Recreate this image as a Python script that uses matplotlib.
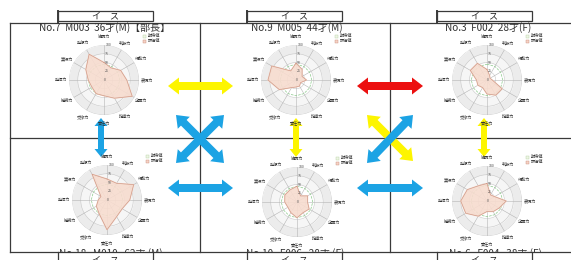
import numpy as np
import matplotlib
matplotlib.use('Agg')
import matplotlib.pyplot as plt
from matplotlib.patches import Polygon, Rectangle
from matplotlib.transforms import Bbox, TransformedBbox

plt.rcParams['font.family'] = ['Noto Sans CJK JP', 'DejaVu Sans']

# radar axis labels (clockwise from top)
skills = ['協調力', '判断力', '行動力', '表現力', '企画力', '指導力',
          '責任力', '交渉力', '継続力', '発信力', '実行力', '発想力']
ticks = [0, 25, 50, 75, 100]
legend_labels = ['期待値', '評価値']

top_titles = ['No.7  M003  36才(M)【部長】', 'No.9  M005  44才(M)', 'No.3  F002  28才(F)']
bottom_titles = ['No.18   M010   62才 (M)', 'No.10   F006   28才 (F)', 'No.6   F004   38才 (F)']

expected = [45, 45, 45, 45, 45, 45, 45, 45, 45, 45, 45, 45]
scores = [
    [50, 40, 55, 65, 93, 60, 45, 45, 40, 45, 60, 85],   # No.7
    [48, 35, 20, 30, 15, 20, 20, 25, 55, 80, 80, 30],   # No.9
    [30, 15, 10, 15, 50, 50, 40, 25, 30, 30, 55, 55],   # No.3
    [60, 55, 88, 65, 50, 55, 85, 45, 35, 25, 20, 85],   # No.18
    [45, 20, 35, 30, 40, 35, 45, 35, 30, 35, 40, 40],   # No.10
    [50, 20, 25, 55, 40, 35, 30, 50, 70, 75, 65, 50],   # No.6
]

# radar centres in pixels
centers = [(104, 80), (296, 80), (487, 80), (107, 200), (297, 202), (487, 201)]
R = 35

# arrows: (start, end, colour, shaft, head width, head length)
BLUE = '#1ca3e4'
YEL = '#fdf500'
RED = '#ec1010'
arrows = [
    ((168, 86), (233, 86), YEL, 8, 17, 11),
    ((357, 86), (423, 86), RED, 8, 17, 11),
    ((168, 188), (233, 188), BLUE, 8, 17, 11),
    ((357, 188), (423, 188), BLUE, 8, 17, 11),
    ((101, 118), (101, 157), BLUE, 6, 13, 8),
    ((296, 118), (296, 157), YEL, 6, 13, 8),
    ((484, 118), (484, 157), YEL, 6, 13, 8),
    ((176, 115), (224, 163), BLUE, 8, 17, 11),
    ((224, 115), (176, 163), BLUE, 8, 17, 11),
    ((367, 115), (413, 161), YEL, 8, 17, 11),
    ((367, 163), (413, 115), BLUE, 8, 17, 11),
]

W, H = 571, 260
fig = plt.figure(figsize=(W / 100, H / 100), dpi=100)
base = fig.add_axes([0, 0, 1, 1])
base.set_xlim(0, W)
base.set_ylim(H, 0)
base.axis('off')

line_c = '#3a3a3a'
# frame lines
base.plot([10, W], [23, 23], color=line_c, lw=0.9, zorder=1)
base.plot([10, W], [137.5, 137.5], color=line_c, lw=0.9, zorder=1)
base.plot([10, W], [252, 252], color=line_c, lw=0.9, zorder=4)
for x in [10, 200, 390]:
    base.plot([x, x], [23, 252], color=line_c, lw=0.9, zorder=1)

# seat boxes on top
for x0 in [58, 247, 437]:
    base.add_patch(Rectangle((x0, 11), 95, 10, fill=False, ec=line_c, lw=0.9))
    base.plot([x0, x0], [11, 23], color=line_c, lw=1.4)
    base.text(x0 + 47.5, 16, 'イ　ス', ha='center', va='center', fontsize=6.5, color='#222')

for (cx, cy), t in zip(centers[:3], top_titles):
    base.text(cx + 1, 28, t, ha='center', va='center', fontsize=7.2, color='#333')

# bottom titles, cut by the bottom line
upper = TransformedBbox(Bbox([[0, 0], [W, 252]]), base.transData)
lower = TransformedBbox(Bbox([[0, 252.5], [W, H]]), base.transData)
tx = [111, 295, 495]
for x, t in zip(tx, bottom_titles):
    txt = base.text(x, 248.5, t, ha='center', va='top', fontsize=7.2, color='#333', zorder=2)
    txt.set_clip_box(upper)
    txt.set_clip_on(True)
for x0 in [58, 247, 437]:
    base.plot([x0, x0], [252, 262], color=line_c, lw=0.9, zorder=4)
    base.plot([x0 + 95, x0 + 95], [252, 262], color=line_c, lw=0.9, zorder=4)
    txt = base.text(x0 + 47.5, 255.5, 'イ　ス', ha='center', va='top', fontsize=6.5,
                    color='#222', zorder=4)
    txt.set_clip_box(lower)
    txt.set_clip_on(True)


def double_arrow(p0, p1, col, w, hw, hl):
    p0 = np.array(p0, float)
    p1 = np.array(p1, float)
    u = (p1 - p0) / np.linalg.norm(p1 - p0)
    n = np.array([-u[1], u[0]])
    pts = [p0, p0 + u * hl + n * hw / 2, p0 + u * hl + n * w / 2,
           p1 - u * hl + n * w / 2, p1 - u * hl + n * hw / 2, p1,
           p1 - u * hl - n * hw / 2, p1 - u * hl - n * w / 2,
           p0 + u * hl - n * w / 2, p0 + u * hl - n * hw / 2]
    base.add_patch(Polygon(pts, closed=True, fc=col, ec='none', zorder=5))


for a in arrows:
    double_arrow(*a)

# radar charts
theta = np.linspace(0, 2 * np.pi, len(skills), endpoint=False)
th_c = np.append(theta, theta[0])
circ = np.linspace(0, 2 * np.pi, 200)
for (cx, cy), vals in zip(centers, scores):
    ax = fig.add_axes([(cx - R) / W, 1 - (cy + R) / H, 2 * R / W, 2 * R / H],
                      projection='polar')
    ax.set_theta_zero_location('N')
    ax.set_theta_direction(-1)
    ax.set_ylim(0, 100)
    ax.set_xticks([])
    ax.set_yticks([])
    ax.spines['polar'].set_visible(False)
    ax.grid(False)
    ax.set_facecolor('none')
    ax.fill_between(circ, 75, 100, color='#ececec', lw=0, zorder=0)
    ax.fill_between(circ, 50, 75, color='#f6f6f6', lw=0, zorder=0)
    for r in ticks[1:]:
        ax.plot(circ, np.full_like(circ, r), color='#c8c8c8', lw=0.4, zorder=1)
    for t in theta:
        ax.plot([t, t], [0, 100], color='#b4b4b4', lw=0.4, zorder=1)
    ax.plot(th_c, expected + expected[:1], color='#8cc98c', lw=0.5, ls='--', zorder=2)
    v = list(vals) + vals[:1]
    ax.fill(th_c, v, color='#f7dccf', alpha=0.9, zorder=3)
    ax.plot(th_c, v, color='#d09a88', lw=0.5, zorder=4)
    for r in ticks:
        ax.text(0.04, r, str(r), fontsize=2.6, color='#555', ha='left', va='center', zorder=5)
    for t, s in zip(theta, skills):
        ax.text(t, 122, s, fontsize=3, color='#333', ha='center', va='center', clip_on=False)
    # legend
    for k, (lab, fc, ec) in enumerate(zip(legend_labels, ['#eef6e6', '#f6d3c6'], ['#b5cfa0', '#c88a78'])):
        ly = cy - 44 + k * 5
        base.add_patch(Rectangle((cx + 39, ly - 1.5), 3, 3, fc=fc, ec=ec, lw=0.3))
        base.text(cx + 44, ly, lab, fontsize=3, color='#333', va='center', ha='left')

fig.savefig('out.png', dpi=100)
